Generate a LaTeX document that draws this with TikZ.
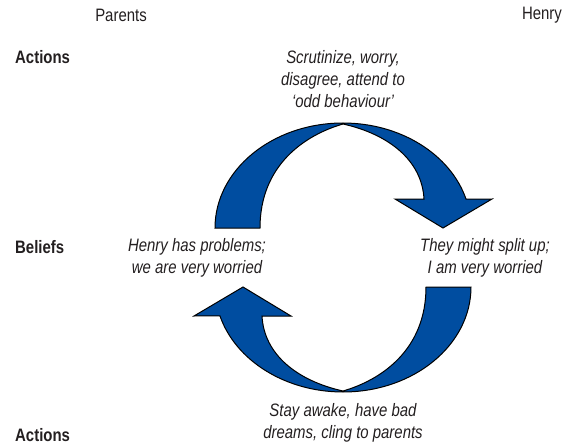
\documentclass[tikz,border=0pt]{standalone}
\usepackage{fontspec}
\setmainfont{Liberation Sans}[FakeStretch=0.83]
\usetikzlibrary{positioning}
\definecolor{cycleblue}{RGB}{0,77,160}
\definecolor{textgrey}{RGB}{35,31,32}

\tikzset{
 cyclearrow/.pic={
  \draw[fill=cycleblue, line width=1pt, line join=miter]
   (-128,-29.5) arc[start angle=180, end angle=344, x radius=128, y radius=105]
   -- (149,-58.5) -- (100,-29.5) -- (52,-58.5) -- (81,-58.5)
   .. controls (79,-97.5) and (45,-123.5) .. (0,-133.5)
   .. controls (-38,-122.5) and (-83,-92.5) .. (-83,-29.5) -- cycle;
 }
}

\begin{document}
\begin{tikzpicture}[x=1pt, y=-1pt,
  every node/.style={font=\fontsize{18}{22}\selectfont, text=textgrey, inner sep=0pt},
  rowlabel/.style={font=\fontsize{18}{22}\selectfont\bfseries, anchor=west},
  thought/.style={font=\fontsize{18}{22}\selectfont\itshape, align=center}]
 \useasboundingbox (0,0) rectangle (574,444);
 \node (parents) at (121,15) {Parents};
 \node (henry) at (542,15) {Henry};
 \node[rowlabel] (actionsTop) at (15,57) {Actions};
 \node[rowlabel] (beliefs) at (15,247) {Beliefs};
 \node[rowlabel] (actionsBot) at (15,435) {Actions};
 \node[thought] (parentsAct) at (343,79) {Scrutinize, worry,\\ disagree, attend to\\ `odd behaviour'};
 \node[thought] (parentsBel) at (197,258) {Henry has problems;\\ we are very worried};
 \node[thought] (henryBel) at (485,258) {They might split up;\\ I am very worried};
 \node[thought] (henryAct) at (343,423) {Stay awake, have bad\\ dreams, cling to parents};
 \pic at (343,257.5) {cyclearrow};
 \pic[rotate=180] at (343,257.5) {cyclearrow};
\end{tikzpicture}
\end{document}
